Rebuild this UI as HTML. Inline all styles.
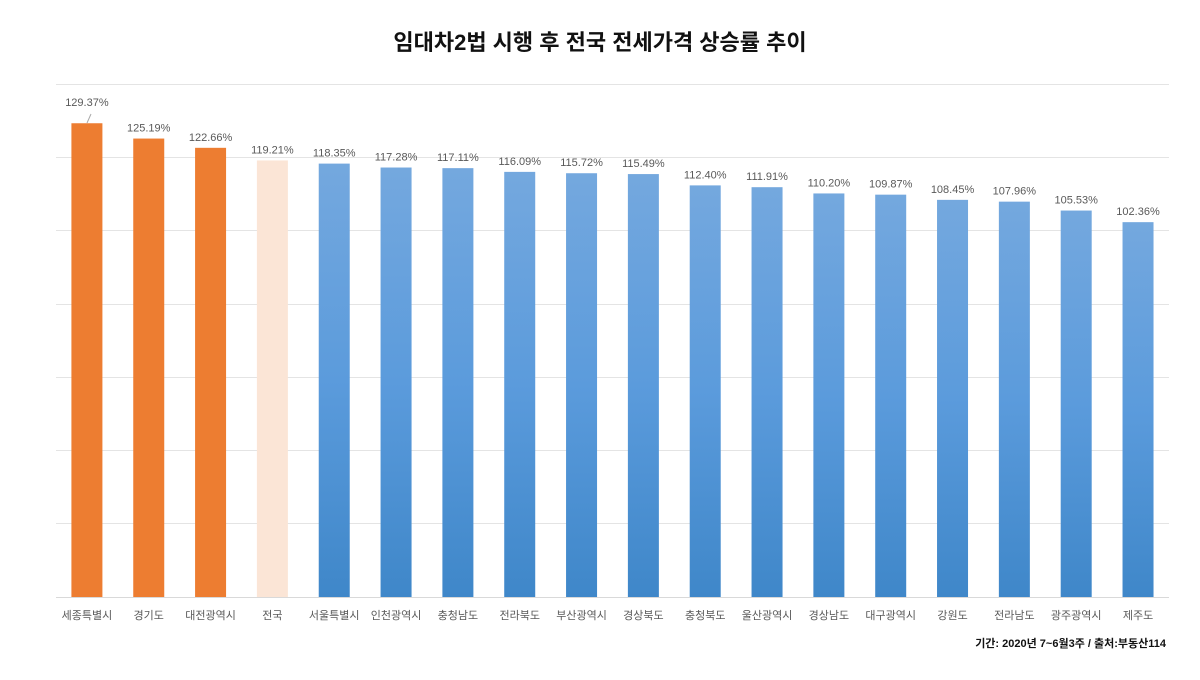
<!DOCTYPE html>
<html><head><meta charset="utf-8"><style>
body{margin:0;background:#fff;}
svg text{font-family:"Liberation Sans","Noto Sans CJK KR",sans-serif;}
</style></head><body>
<svg width="1200" height="675" xmlns="http://www.w3.org/2000/svg">
<defs><linearGradient id="b" x1="0" y1="0" x2="0" y2="1"><stop offset="0" stop-color="#74a8de"/><stop offset="0.5" stop-color="#5b9bdc"/><stop offset="1" stop-color="#3f87c9"/></linearGradient></defs>
<rect width="1200" height="675" fill="#fff"/>
<text x="600" y="50" text-anchor="middle" font-size="22" font-weight="bold" fill="#111">임대차2법 시행 후 전국 전세가격 상승률 추이</text>
<g stroke="#e4e4e4" stroke-width="1">
<line x1="56" x2="1169" y1="84.5" y2="84.5"/><line x1="56" x2="1169" y1="157.5" y2="157.5"/><line x1="56" x2="1169" y1="230.5" y2="230.5"/><line x1="56" x2="1169" y1="304.5" y2="304.5"/><line x1="56" x2="1169" y1="377.5" y2="377.5"/><line x1="56" x2="1169" y1="450.5" y2="450.5"/><line x1="56" x2="1169" y1="523.5" y2="523.5"/>
</g>
<g id="bars"></g>
<line x1="56" x2="1169" y1="597.5" y2="597.5" stroke="#d9d9d9"/>
<line x1="87" y1="123" x2="91" y2="114" stroke="#aaa"/>
<text x="1166" y="647" text-anchor="end" font-size="11" font-weight="bold" fill="#111">기간: 2020년 7~6월3주 / 출처:부동산114</text>
</svg>
<script>
const d=[["세종특별시",129.37],["경기도",125.19],["대전광역시",122.66],["전국",119.21],["서울특별시",118.35],["인천광역시",117.28],["충청남도",117.11],["전라북도",116.09],["부산광역시",115.72],["경상북도",115.49],["충청북도",112.40],["울산광역시",111.91],["경상남도",110.20],["대구광역시",109.87],["강원도",108.45],["전라남도",107.96],["광주광역시",105.53],["제주도",102.36]];
const g=document.getElementById("bars");let s="";
d.forEach((e,i)=>{const c=56+61.83*(i+0.5);const y=597-e[1]*3.662;
const f=i<3?"#ed7d31":i==3?"#fbe5d6":"url(#b)";
s+=`<rect x="${c-15.5}" y="${y}" width="31" height="${597-y}" fill="${f}"/>`;
const ly=i==0?106:y-7;
s+=`<text x="${c}" y="${ly}" text-anchor="middle" font-size="11" fill="#595959">${e[1].toFixed(2)}%</text>`;
s+=`<text x="${c}" y="619" text-anchor="middle" font-size="11" fill="#595959">${e[0]}</text>`;});
g.innerHTML=s;
</script>
</body></html>
